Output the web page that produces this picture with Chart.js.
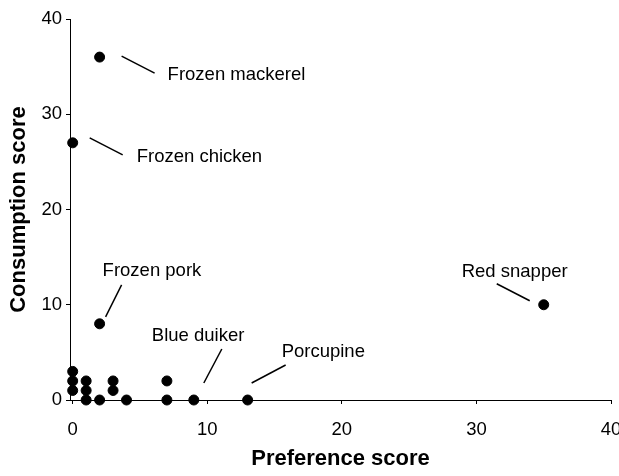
<!DOCTYPE html>
<html>
<head>
<meta charset="utf-8">
<script src="https://cdn.jsdelivr.net/npm/chart.js@4.4.1/dist/chart.umd.min.js"></script>
<style>
  html, body { margin: 0; padding: 0; background: #fff; }
  #wrap { width: 619px; height: 476px; }
</style>
</head>
<body>
<div id="wrap"><canvas id="chart" width="619" height="476"></canvas></div>
<script>
// data
const prefScore = [0, 0, 0, 1, 1, 1, 2, 3, 3, 4, 7, 7, 9, 13, 2, 2, 0, 35];
const consScore = [3, 2, 1, 2, 1, 0, 0, 2, 1, 0, 2, 0, 0, 0, 8, 36, 27, 10];
const pointNames = ['', '', '', '', '', '', '', '', '', '', '', '', 'Blue duiker', 'Porcupine',
  'Frozen pork', 'Frozen mackerel', 'Frozen chicken', 'Red snapper'];
const xTicks = [0, 10, 20, 30, 40];
const yTicks = [0, 10, 20, 30, 40];

const FONT = "'Liberation Sans', Arial, Helvetica, sans-serif";

// where each callout goes, in pixels relative to its point
const calloutLayout = {
  'Frozen mackerel': { line: [22, -1, 55, 16], text: [68, 18] },
  'Frozen chicken':  { line: [17, -5, 50, 12], text: [64, 14] },
  'Frozen pork':     { line: [6, -7, 22, -39], text: [3, -53] },
  'Red snapper':     { line: [-47, -21, -14, -4], text: [-82, -33] },
  'Blue duiker':     { line: [10, -17, 28, -51], text: [-42, -64] },
  'Porcupine':       { line: [4, -17, 38, -35], text: [34, -48] },
};

const callouts = {
  id: 'callouts',
  afterDatasetsDraw(chart) {
    const { ctx, scales: { x, y } } = chart;
    ctx.save();
    ctx.strokeStyle = '#000';
    ctx.lineWidth = 1.5;
    ctx.fillStyle = '#000';
    ctx.font = '18.5px ' + FONT;
    ctx.textBaseline = 'middle';
    ctx.textAlign = 'left';
    pointNames.forEach((name, i) => {
      const c = calloutLayout[name];
      if (!c) return;
      const px = x.getPixelForValue(prefScore[i]);
      const py = y.getPixelForValue(consScore[i]);
      ctx.beginPath();
      ctx.moveTo(px + c.line[0], py + c.line[1]);
      ctx.lineTo(px + c.line[2], py + c.line[3]);
      ctx.stroke();
      ctx.fillText(name, px + c.text[0], py + c.text[1]);
    });
    ctx.restore();
  }
};

const axisCommon = {
  type: 'linear',
  max: 40,
  grid: { display: true, drawOnChartArea: false, drawTicks: true, tickLength: 4, color: '#000' },
  border: { display: true, color: '#000', width: 1 },
};

new Chart(document.getElementById('chart'), {
  type: 'scatter',
  data: {
    datasets: [{
      label: 'Items',
      data: prefScore.map((v, i) => ({ x: v, y: consScore[i] })),
      backgroundColor: '#000',
      borderColor: '#000',
      pointRadius: 5,
      pointHoverRadius: 5,
      clip: false,
    }]
  },
  options: {
    responsive: false,
    animation: false,
    layout: { padding: { top: 19, right: 8, left: 0, bottom: 0 } },
    plugins: { legend: { display: false }, tooltip: { enabled: false } },
    scales: {
      x: {
        ...axisCommon,
        min: -0.2,
        afterBuildTicks: (axis) => { axis.ticks = xTicks.map(v => ({ value: v })); },
        afterFit: (scale) => { scale.height = 76; scale.paddingLeft = 0; scale.paddingRight = 0; },
        ticks: { color: '#000', padding: 15, font: { family: FONT, size: 18.5 } },
        title: { display: true, text: 'Preference score', color: '#000', padding: { top: 0, bottom: 4 },
                 font: { family: FONT, size: 22, weight: 'bold' } },
      },
      y: {
        ...axisCommon,
        min: 0,
        afterBuildTicks: (axis) => { axis.ticks = yTicks.map(v => ({ value: v })); },
        afterFit: (scale) => { scale.width = 70; scale.paddingTop = 0; scale.paddingBottom = 0; },
        ticks: { color: '#000', padding: 4, font: { family: FONT, size: 18.5 } },
        title: { display: true, text: 'Consumption score', color: '#000', padding: { top: 6, bottom: 0 },
                 font: { family: FONT, size: 22, weight: 'bold' } },
      }
    }
  },
  plugins: [callouts]
});
</script>
</body>
</html>
